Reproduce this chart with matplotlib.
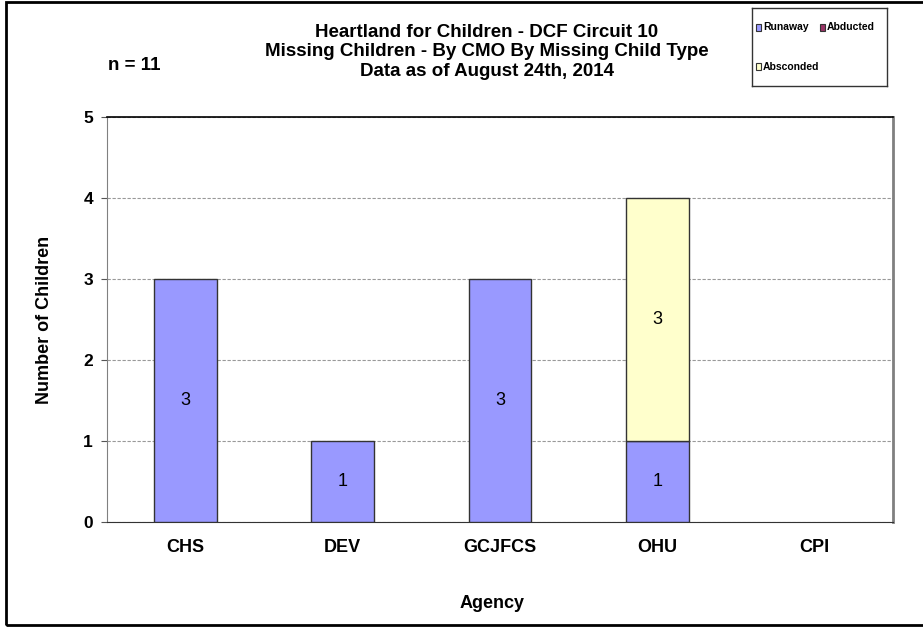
import matplotlib
matplotlib.use("Agg")
import matplotlib.pyplot as plt
import numpy as np

# ── Data ──────────────────────────────────────────────────────────────────────
agencies  = ["CHS", "DEV", "GCJFCS", "OHU", "CPI"]
runaway   = [3, 1, 3, 1, 0]
abducted  = [0, 0, 0, 0, 0]
absconded = [0, 0, 0, 3, 0]
n_total   = 11

RUNAWAY   = "#9999FF"
ABDUCTED  = "#993366"
ABSCONDED = "#FFFFCC"

plt.rcParams["font.family"] = ["Liberation Sans", "DejaVu Sans"]

fig = plt.figure(figsize=(9.23, 6.27), dpi=100, facecolor="white")
ax = fig.add_axes([107 / 923, 1 - 522 / 627, 786 / 923, 405 / 627])

# outer chart frame
fig.patches.append(plt.Rectangle((6 / 923, 2 / 627), 1.2, 623 / 627, transform=fig.transFigure,
                                 fill=False, edgecolor="black", lw=2, zorder=0))

xs = np.arange(len(agencies))
width = 0.4
bottom = np.zeros(len(agencies))
for vals, color in [(runaway, RUNAWAY), (abducted, ABDUCTED), (absconded, ABSCONDED)]:
    vals = np.array(vals, dtype=float)
    keep = vals > 0
    ax.bar(xs[keep], vals[keep], width, bottom=bottom[keep], color=color,
           edgecolor="#333333", lw=1, zorder=3)
    for x, v, b in zip(xs[keep], vals[keep], bottom[keep]):
        ax.text(x, b + v / 2, f"{int(v)}", ha="center", va="center", fontsize=13, zorder=4)
    bottom += vals

ax.set_xlim(-0.5, len(agencies) - 0.5)
ax.set_ylim(0, 5)
ax.set_yticks(range(6))
ax.set_yticklabels([str(i) for i in range(6)], fontsize=12.5, fontweight="bold")
ax.set_xticks(xs)
ax.set_xticklabels(agencies, fontsize=13, fontweight="bold")
ax.tick_params(axis="x", length=0, pad=12)
ax.tick_params(axis="y", length=4, color="#555555", pad=6)
ax.yaxis.grid(True, color="#999999", ls=(0, (3, 1.5)), lw=0.8, zorder=0)

ax.spines["top"].set_color("black")
ax.spines["top"].set_linewidth(1.2)
ax.spines["right"].set_color("#808080")
ax.spines["right"].set_linewidth(2)
ax.spines["left"].set_color("#808080")
ax.spines["bottom"].set_color("#333333")

ax.set_ylabel("Number of Children", fontsize=13, fontweight="bold", labelpad=22)

fig.text(492 / 923, 1 - 603 / 627, "Agency", ha="center", va="center",
         fontsize=13, fontweight="bold")
fig.text(487 / 923, 1 - 52 / 627,
         "Heartland for Children - DCF Circuit 10\nMissing Children - By CMO By Missing Child Type\nData as of August 24th, 2014",
         ha="center", va="center", fontsize=13.5, fontweight="bold", linespacing=1.2)
fig.text(108 / 923, 1 - 65 / 627, f"n = {n_total}", ha="left", va="center",
         fontsize=13.5, fontweight="bold")

# legend box
leg_ax = fig.add_axes([752 / 923, 1 - 86 / 627, 135 / 923, 78 / 627])
leg_ax.set_xticks([])
leg_ax.set_yticks([])
for s in leg_ax.spines.values():
    s.set_color("#333333")
    s.set_linewidth(1)
for (lx, ly, lbl, col) in [(0.06, 0.75, "Runaway", RUNAWAY), (0.53, 0.75, "Abducted", ABDUCTED),
                           (0.06, 0.25, "Absconded", ABSCONDED)]:
    leg_ax.add_patch(plt.Rectangle((lx - 0.03, ly - 0.05), 0.04, 0.1, facecolor=col,
                                   edgecolor="#333333", lw=0.8, transform=leg_ax.transAxes))
    leg_ax.text(lx + 0.02, ly, lbl, fontsize=7.5, fontweight="bold", va="center", ha="left",
                transform=leg_ax.transAxes)

fig.savefig("out.png", dpi=100)
